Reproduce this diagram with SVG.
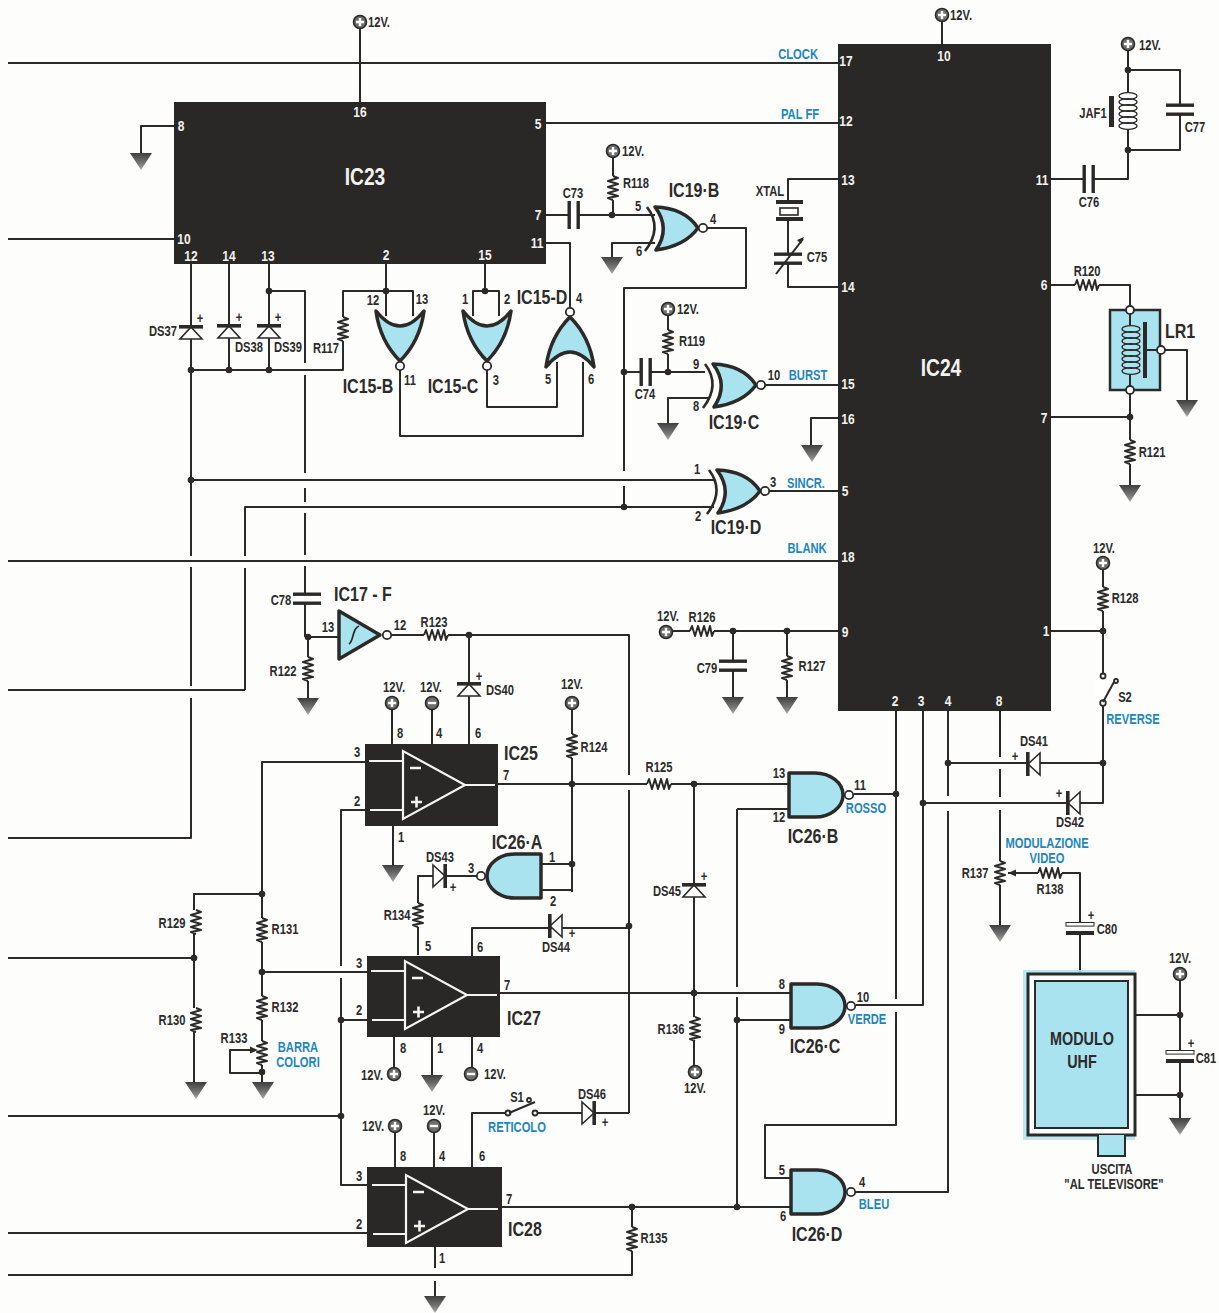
<svg xmlns="http://www.w3.org/2000/svg" width="1219" height="1313" viewBox="0 0 1219 1313">
<style>
text{font-family:"Liberation Sans",Arial,sans-serif;font-weight:700;text-anchor:middle;fill:#2c2b2a;font-size:14px;transform-box:fill-box;transform-origin:center;transform:scaleX(.8)}
.p{fill:#f2f2ee;font-size:15px}
.n{font-size:14px}
.b{fill:#1f86bd;font-size:14px}
.g{font-size:20px}
.m{font-size:18px}
.h{fill:#f2f2ee;font-size:24px}
.w{fill:none;stroke:#2b2a29;stroke-width:2;stroke-linejoin:round}
.ic{fill:#2a2826}
.gate{fill:#a9e3ef;stroke:#2b2a29;stroke-width:3.5;stroke-linejoin:round}
.bub{fill:#fff;stroke:#2b2a29;stroke-width:1.8}
.arc{fill:none;stroke:#2b2a29;stroke-width:2.6}
.opa{fill:none;stroke:#f4f4f0;stroke-width:2.2;stroke-linejoin:miter}
.z{fill:none;stroke:#2b2a29;stroke-width:2;stroke-linejoin:round}
.c{fill:none;stroke:#2b2a29;stroke-width:1.4}
.plate{fill:#2b2a29}
.dot{fill:#2b2a29}
</style>
<defs>
<linearGradient id="gg" x1="0" y1="0" x2="0" y2="1"><stop offset="0" stop-color="#3f3f3f"/><stop offset=".6" stop-color="#777"/><stop offset="1" stop-color="#a8a8a4"/></linearGradient>
<g id="rv"><rect x="-6" y="-12" width="12" height="24" fill="#fff"/><path class="z" d="M0-12l5 2-10 3 10 3-10 3 10 3-10 3 10 3-10 2 5 2"/></g>
<g id="rh"><rect x="-12" y="-6" width="24" height="12" fill="#fff"/><path class="z" d="M-12 0l2-5 3 10 3-10 3 10 3-10 3 10 3-10 2 10 2-5"/></g>
<path id="gnd" d="M-11 0H11L0 17Z" fill="url(#gg)"/>
<g id="vp"><circle r="6.5" fill="#6e6e6c" stroke="#2b2a29" stroke-width="1.6"/><path d="M-4 0H4M0-4V4" stroke="#fff" stroke-width="2.4"/></g>
<g id="vm"><circle r="6.5" fill="#6e6e6c" stroke="#2b2a29" stroke-width="1.6"/><path d="M-4 0H4" stroke="#fff" stroke-width="2.4"/></g>
<circle id="d" class="dot" r="3.3"/>
<g id="dio"><path d="M0-4L11 8H-11Z" fill="#fff" stroke="#2b2a29" stroke-width="1.6"/><rect x="-12" y="-6" width="24" height="3.6" class="plate"/></g>
<g id="capv"><rect x="-14" y="0" width="28" height="9" fill="#fff"/><rect x="-14" y="-1.5" width="28" height="3.4" class="plate"/><rect x="-14" y="7.5" width="28" height="3.4" class="plate"/></g>
<g id="caph"><rect x="0" y="-14" width="9" height="28" fill="#fff"/><rect x="-1.5" y="-14" width="3.4" height="28" class="plate"/><rect x="7.5" y="-14" width="3.4" height="28" class="plate"/></g>
<g id="cape"><rect x="-14" y="-2" width="28" height="10" fill="#fff"/><rect x="-14" y="-2.5" width="28" height="3.6" fill="#fff" stroke="#2b2a29" stroke-width="1"/><rect x="-14" y="6" width="28" height="4" class="plate"/></g>
<g id="nand"><path class="gate" d="M0-22H26A28 22 0 0 1 26 22H0Z"/><circle class="bub" cx="60" cy="0" r="4.2"/></g>
<g id="nor"><path class="gate" d="M-24 0Q0 30 24 0Q20 30 0 50Q-20 30-24 0Z"/><circle class="bub" cx="0" cy="55" r="4.2"/></g>
<g id="xnor"><path class="arc" d="M2-21Q18 0 0 23"/><path class="gate" d="M10-21Q40-20 53 0Q40 18 11 22Q26 0 10-21Z"/><circle class="bub" cx="58" cy="0" r="4.2"/></g>
<g id="oa"><path class="opa" d="M0-34V34L62 0ZM62 0H92M-34-24H0M-33 25H0"/><path d="M7-17H18M8 17H19M13.500 11.500V22.500" stroke="#f4f4f0" stroke-width="2.6" fill="none"/></g>
<ellipse id="turn" class="c" rx="9" ry="3.400"/>
</defs>
<rect width="1219" height="1313" fill="#fdfdfb"/>
<g id="connectors">
<path class="w" d="M8 63H838M360 28V102M942 21V44M546 123H838M174 126H141V153M8 239H174"/>
<path class="w" d="M546 215H655M613 157V215M655 243H612V257M707 228H746V288H624V471M624 486V507"/>
<path class="w" d="M838 179H788V202M788 218V254M788 262V287H838"/>
<path class="w" d="M624 372H705M668 315V372M668 423V398H708M765 385H838M838 418H811V445"/>
<path class="w" d="M191 264V556M191 567V686M191 698V838H8M229 264V370M269 264V370M191 370H343V291H413V316M386 264V316"/>
<path class="w" d="M269 291H305V363M305 375V473M305 488V502M305 513V555M305 566V637M191 480H714M245 690V568M245 556V507H714M8 690H245M8 561H838M767 491H838"/>
<path class="w" d="M485 264V291M473 316V291H499V316M400 370V436H583V362M487 370V407H557V362M570 307V243H546"/>
<path class="w" d="M308 637H340M391 635H629V775M629 790V1113M469 635V745M392 709V745M432 709V745M572 709V892M572 864H541M572 890H541M477 876H418V955"/>
<path class="w" d="M365 762H262V972M365 810H341V966M341 978V1185H367M341 1020H367M8 1116H341M262 894H194V1082M194 958H8M262 972H367M262 972V1082M252 1050H230V1073H262"/>
<path class="w" d="M498 784H789M694 784V1072M737 809H789M737 809V987M737 997V1207M694 993H790M500 993H694M737 1020H790"/>
<path class="w" d="M472 956V928H629M394 1037V1068M432 1037V1075M472 1037V1068M395 1133V1167M434 1133V1167M472 1167V1113H629M367 1233H8M502 1207H790M632 1207V1275H8M435 1247V1268M435 1281V1296"/>
<path class="w" d="M672 631H838M733 631V697M787 631V697"/>
<path class="w" d="M854 794H896M896 711V999M896 1012V1125H765V1178H790M856 1005H923V711M856 1192H948V811M948 796V711"/>
<path class="w" d="M948 763H1103M1000 711V757M1000 769V797M1000 810V925M923 803H1103V631M1051 631H1103M1103 570V665M1103 706V763"/>
<path class="w" d="M1008 873H1080V972M1135 1015H1180M1135 1095H1180M1180 981V1118"/>
<path class="w" d="M1051 179H1128V150M1128 51V92M1128 130V150M1128 70H1180V150H1128"/>
<path class="w" d="M1051 285H1130V309M1130 394V485M1051 417H1130M1165 350H1187V400"/>
<path class="w" d="M393 826V865M308 640V698"/>
</g>
<g id="IC23"><rect class="ic" x="174" y="102" width="372" height="162"/>
<text class="h" x="365" y="185">IC23</text>
<text class="p" x="360" y="117">16</text><text class="p" x="181" y="131">8</text><text class="p" x="538" y="129">5</text><text class="p" x="538" y="220">7</text><text class="p" x="537" y="248">11</text><text class="p" x="184" y="244">10</text><text class="p" x="191" y="261">12</text><text class="p" x="229" y="261">14</text><text class="p" x="268" y="261">13</text><text class="p" x="386" y="260">2</text><text class="p" x="485" y="260">15</text></g>
<g id="IC24"><rect class="ic" x="838" y="44" width="213" height="667"/>
<text class="h" x="941" y="376">IC24</text>
<text class="p" x="846" y="66">17</text><text class="p" x="846" y="126">12</text><text class="p" x="848" y="185">13</text><text class="p" x="848" y="292">14</text><text class="p" x="848" y="389">15</text><text class="p" x="848" y="424">16</text><text class="p" x="845" y="496">5</text><text class="p" x="848" y="562">18</text><text class="p" x="845" y="637">9</text><text class="p" x="944" y="61">10</text><text class="p" x="1042" y="185">11</text><text class="p" x="1044" y="290">6</text><text class="p" x="1044" y="423">7</text><text class="p" x="1046" y="636">1</text><text class="p" x="895" y="706">2</text><text class="p" x="921" y="706">3</text><text class="p" x="948" y="706">4</text><text class="p" x="999" y="706">8</text></g>
<g id="signal-labels"><text class="b" x="798" y="59">CLOCK</text><text class="b" x="800" y="119">PAL FF</text><text class="b" x="808" y="380">BURST</text><text class="b" x="806" y="488">SINCR.</text><text class="b" x="807" y="553">BLANK</text><text class="b" x="866" y="813">ROSSO</text><text class="b" x="867" y="1024">VERDE</text><text class="b" x="874" y="1209">BLEU</text><text class="b" x="1133" y="724">REVERSE</text><text class="b" x="298" y="1052">BARRA</text><text class="b" x="298" y="1067">COLORI</text><text class="b" x="517" y="1132">RETICOLO</text><text class="b" x="1047" y="848">MODULAZIONE</text><text class="b" x="1047" y="863">VIDEO</text></g>
<g id="supply-top"><use href="#vp" x="360" y="22"/><text x="379" y="27">12V.</text><use href="#vp" x="942" y="15"/><text x="961" y="20">12V.</text></g>
<g id="G8"><use href="#gnd" x="141" y="153"/></g>
<g id="C73"><use href="#caph" x="569" y="215"/><text x="573" y="198">C73</text></g>
<g id="R118"><use href="#vp" x="613" y="151"/><text x="633" y="156">12V.</text><use href="#rv" x="613" y="188"/><text x="636" y="188">R118</text><use href="#d" x="612" y="215"/><use href="#gnd" x="612" y="257"/></g>
<g id="IC19-B"><use href="#xnor" x="645" y="228"/><text class="g" x="694" y="197">IC19·B</text><text class="n" x="638" y="211">5</text><text class="n" x="639" y="256">6</text><text class="n" x="713" y="224">4</text></g>
<g id="XTAL"><rect x="776" y="200" width="27" height="4" class="plate"/><rect x="780" y="208" width="18" height="7" fill="#fff" stroke="#2b2a29" stroke-width="1.6"/><rect x="776" y="217" width="27" height="4" class="plate"/><text x="770" y="196">XTAL</text></g>
<g id="C75"><use href="#capv" x="788" y="254"/><path class="w" d="M776 274L803 239" stroke-width="1.5"/><path d="M804 237l-7 3 4 4Z" class="plate"/><text x="817" y="262">C75</text></g>
<g id="C74"><use href="#caph" x="641" y="372"/><use href="#d" x="624" y="372"/><use href="#d" x="668" y="372"/><text x="645" y="399">C74</text></g>
<g id="R119"><use href="#vp" x="668" y="309"/><text x="688" y="314">12V.</text><use href="#rv" x="668" y="342"/><text x="692" y="346">R119</text><use href="#gnd" x="668" y="423"/></g>
<g id="IC19-C"><use href="#xnor" x="703" y="385"/><text class="g" x="734" y="429">IC19·C</text><text class="n" x="696" y="369">9</text><text class="n" x="696" y="411">8</text><text class="n" x="774" y="380">10</text></g>
<g id="G16"><use href="#gnd" x="812" y="445"/></g>
<g id="IC19-D"><use href="#xnor" x="707" y="491"/><text class="g" x="736" y="534">IC19·D</text><text class="n" x="697" y="474">1</text><text class="n" x="698" y="521">2</text><text class="n" x="773" y="487">3</text></g>
<g id="dots-left"><use href="#d" x="191" y="370"/><use href="#d" x="229" y="370"/><use href="#d" x="269" y="370"/><use href="#d" x="269" y="291"/><use href="#d" x="386" y="291"/><use href="#d" x="485" y="291"/><use href="#d" x="191" y="480"/><use href="#d" x="624" y="507"/></g>
<g id="DS37"><use href="#dio" x="191" y="331"/><text x="163" y="336">DS37</text><text class="n" x="200" y="323">+</text></g>
<g id="DS38"><use href="#dio" x="229" y="330"/><text x="249" y="352">DS38</text><text class="n" x="239" y="322">+</text></g>
<g id="DS39"><use href="#dio" x="269" y="330"/><text x="288" y="352">DS39</text><text class="n" x="278" y="322">+</text></g>
<g id="R117"><use href="#rv" x="343" y="329"/><text x="326" y="353">R117</text></g>
<g id="IC15-B"><use href="#nor" x="400" y="311"/><text class="g" x="368" y="393">IC15-B</text><text class="n" x="373" y="305">12</text><text class="n" x="422" y="304">13</text><text class="n" x="410" y="385">11</text></g>
<g id="IC15-C"><use href="#nor" x="487" y="311"/><text class="g" x="453" y="393">IC15-C</text><text class="n" x="465" y="304">1</text><text class="n" x="507" y="304">2</text><text class="n" x="496" y="385">3</text></g>
<g id="IC15-D"><use href="#nor" transform="translate(570 367) rotate(180)"/><text class="g" x="542" y="304">IC15-D</text><text class="n" x="579" y="303">4</text><text class="n" x="548" y="384">5</text><text class="n" x="591" y="384">6</text></g>
<g id="C78"><use href="#capv" x="307" y="594"/><text x="281" y="605">C78</text><use href="#d" x="308" y="637"/></g>
<g id="R122"><use href="#rv" x="308" y="669"/><text x="283" y="676">R122</text><use href="#gnd" x="308" y="698"/></g>
<g id="IC17-F"><path class="gate" stroke-width="5" d="M339 611V659L380 635Z"/><path d="M349 644c5-3 3-16 10-18" fill="none" stroke="#2b2a29" stroke-width="1.8"/><circle class="bub" cx="387" cy="635" r="4.2"/><text class="g" x="363" y="601">IC17 - F</text><text class="n" x="328" y="632">13</text><text class="n" x="400" y="630">12</text></g>
<g id="R123"><use href="#rh" x="436" y="635"/><text x="434" y="627">R123</text><use href="#d" x="469" y="635"/></g>
<g id="DS40"><use href="#dio" x="469" y="688"/><text class="n" x="479" y="681">+</text><text x="500" y="695">DS40</text></g>
<g id="IC25"><rect class="ic" x="365" y="744" width="133" height="82"/><use href="#oa" x="403" y="785"/><text class="g" x="521" y="760">IC25</text><text x="357" y="757">3</text><text x="357" y="806">2</text><text x="400" y="738">8</text><text x="439" y="738">4</text><text x="478" y="738">6</text><text x="506" y="780">7</text><text x="401" y="842">1</text></g>
<g id="IC25-supply"><use href="#vp" x="392" y="703"/><text x="394" y="692">12V.</text><use href="#vm" x="432" y="703"/><text x="431" y="692">12V.</text><use href="#gnd" x="393" y="865"/></g>
<g id="R124"><use href="#vp" x="572" y="703"/><text x="572" y="689">12V.</text><use href="#rv" x="572" y="746"/><text x="594" y="752">R124</text><use href="#d" x="572" y="784"/><use href="#d" x="572" y="864"/></g>
<g id="IC26-A"><use href="#nand" transform="translate(541 876) scale(-1 1)"/><text class="g" x="517" y="849">IC26·A</text><text class="n" x="471" y="873">3</text><text class="n" x="552" y="862">1</text><text class="n" x="553" y="906">2</text></g>
<g id="DS43"><use href="#dio" transform="translate(441 876) rotate(90)"/><text x="440" y="862">DS43</text><text class="n" x="453" y="892">+</text></g>
<g id="R134"><use href="#rv" x="418" y="915"/><text x="397" y="920">R134</text></g>
<g id="DS44"><use href="#dio" transform="translate(554 926) rotate(-90)"/><text x="556" y="952">DS44</text><text class="n" x="572" y="938">+</text><use href="#d" x="629" y="926"/></g>
<g id="R125"><use href="#rh" x="659" y="784"/><text x="659" y="772">R125</text><use href="#d" x="694" y="784"/></g>
<g id="DS45"><use href="#dio" x="694" y="889"/><text x="667" y="896">DS45</text><text class="n" x="704" y="881">+</text><use href="#d" x="694" y="993"/></g>
<g id="R136"><use href="#rv" x="695" y="1029"/><text x="671" y="1034">R136</text><use href="#vp" x="695" y="1072"/><text x="695" y="1093">12V.</text></g>
<g id="IC26-B"><use href="#nand" x="789" y="795"/><text class="g" x="813" y="843">IC26·B</text><text class="n" x="779" y="778">13</text><text class="n" x="779" y="822">12</text><text class="n" x="860" y="790">11</text><use href="#d" x="896" y="794"/></g>
<g id="IC26-C"><use href="#nand" x="791" y="1006"/><text class="g" x="815" y="1053">IC26·C</text><text class="n" x="782" y="989">8</text><text class="n" x="782" y="1034">9</text><text class="n" x="863" y="1002">10</text><use href="#d" x="737" y="1020"/></g>
<g id="IC26-D"><use href="#nand" x="791" y="1192"/><text class="g" x="817" y="1241">IC26·D</text><text class="n" x="782" y="1175">5</text><text class="n" x="783" y="1221">6</text><text class="n" x="862" y="1187">4</text><use href="#d" x="737" y="1207"/></g>
<g id="divider"><use href="#rv" x="196" y="922"/><text x="172" y="928">R129</text><use href="#rv" x="196" y="1020"/><text x="172" y="1025">R130</text><use href="#d" x="194" y="958"/><use href="#gnd" x="196" y="1082"/><use href="#d" x="262" y="894"/><use href="#rv" x="262" y="930"/><text x="285" y="934">R131</text><use href="#d" x="262" y="972"/><use href="#rv" x="262" y="1008"/><text x="285" y="1012">R132</text></g>
<g id="R133"><use href="#rv" x="262" y="1053"/><path d="M258 1050l-8-3.500v7Z" class="plate"/><text x="234" y="1043">R133</text><use href="#d" x="262" y="1072"/><use href="#gnd" x="263" y="1082"/></g>
<g id="junctions"><use href="#d" x="341" y="1020"/><use href="#d" x="341" y="1116"/><use href="#d" x="923" y="803"/><use href="#d" x="948" y="763"/><use href="#d" x="1103" y="763"/><use href="#d" x="1103" y="631"/></g>
<g id="IC27"><rect class="ic" x="367" y="956" width="133" height="81"/><use href="#oa" x="405" y="995"/><text class="g" x="524" y="1025">IC27</text><text x="359" y="968">3</text><text x="359" y="1015">2</text><text x="428" y="951">5</text><text x="480" y="952">6</text><text x="507" y="990">7</text><text x="403" y="1053">8</text><text x="440" y="1053">1</text><text x="480" y="1053">4</text></g>
<g id="IC27-supply"><use href="#vp" x="394" y="1074"/><text x="372" y="1080">12V.</text><use href="#gnd" x="432" y="1075"/><use href="#vm" x="471" y="1074"/><text x="495" y="1079">12V.</text></g>
<g id="IC28"><rect class="ic" x="367" y="1167" width="135" height="80"/><use href="#oa" x="406" y="1209"/><text class="g" x="525" y="1236">IC28</text><text x="359" y="1181">3</text><text x="359" y="1229">2</text><text x="403" y="1161">8</text><text x="442" y="1161">4</text><text x="482" y="1161">6</text><text x="509" y="1204">7</text><text x="442" y="1263">1</text></g>
<g id="IC28-supply"><use href="#vp" x="395" y="1126"/><text x="373" y="1131">12V.</text><use href="#vm" x="434" y="1126"/><text x="434" y="1115">12V.</text><use href="#gnd" x="435" y="1296"/></g>
<g id="S1"><rect x="510" y="1108" width="24" height="10" fill="#fff"/><circle class="bub" cx="508" cy="1113" r="2.500"/><circle class="bub" cx="535" cy="1113" r="2.500"/><path class="w" d="M509 1113L535 1102"/><circle class="bub" cx="529" cy="1100" r="2"/><text class="n" x="517" y="1102">S1</text></g>
<g id="DS46"><use href="#dio" transform="translate(590 1113) rotate(90)"/><text x="592" y="1099">DS46</text><text class="n" x="605" y="1127">+</text></g>
<g id="R135"><use href="#rv" x="632" y="1239"/><text x="654" y="1243">R135</text><use href="#d" x="632" y="1207"/></g>
<g id="R126"><use href="#vp" x="666" y="632"/><text x="668" y="621">12V.</text><use href="#rh" x="702" y="631"/><text x="702" y="622">R126</text><use href="#d" x="733" y="631"/><use href="#d" x="787" y="631"/></g>
<g id="C79"><use href="#capv" x="733" y="661"/><text x="707" y="673">C79</text><use href="#gnd" x="733" y="697"/></g>
<g id="R127"><use href="#rv" x="787" y="668"/><text x="812" y="671">R127</text><use href="#gnd" x="787" y="697"/></g>
<g id="JAF1"><use href="#vp" x="1128" y="44"/><text x="1150" y="50">12V.</text><use href="#d" x="1128" y="70"/><use href="#d" x="1128" y="150"/><rect x="1118" y="92" width="20" height="38" fill="#fff"/><use href="#turn" x="1128" y="96"/><use href="#turn" x="1128" y="102"/><use href="#turn" x="1128" y="108"/><use href="#turn" x="1128" y="114"/><use href="#turn" x="1128" y="120"/><use href="#turn" x="1128" y="126"/><rect x="1109" y="96" width="5" height="31" class="plate"/><text x="1093" y="118">JAF1</text></g>
<g id="C77"><use href="#capv" x="1180" y="105"/><text x="1195" y="132">C77</text></g>
<g id="C76"><use href="#caph" x="1084" y="179"/><text x="1089" y="207">C76</text></g>
<g id="R120"><use href="#rh" x="1087" y="285"/><text x="1087" y="276">R120</text></g>
<g id="LR1"><rect x="1110" y="310" width="50" height="80" fill="#a9e3ef" stroke="#2b2a29" stroke-width="2.500"/><path class="z" d="M1130 314V326M1130 374V386"/><use href="#turn" x="1131" y="329"/><use href="#turn" x="1131" y="335"/><use href="#turn" x="1131" y="341"/><use href="#turn" x="1131" y="347"/><use href="#turn" x="1131" y="353"/><use href="#turn" x="1131" y="359"/><use href="#turn" x="1131" y="365"/><use href="#turn" x="1131" y="371"/><rect x="1143" y="322" width="4" height="56" class="plate"/><path class="z" d="M1145 350H1158"/><circle class="bub" cx="1130" cy="310" r="4"/><circle class="bub" cx="1130" cy="390" r="4"/><circle class="bub" cx="1161" cy="350" r="4"/><text class="g" x="1180" y="338">LR1</text><use href="#gnd" x="1187" y="400"/></g>
<g id="R121"><use href="#d" x="1130" y="417"/><use href="#rv" x="1130" y="452"/><text x="1152" y="457">R121</text><use href="#gnd" x="1130" y="485"/></g>
<g id="R128"><use href="#vp" x="1103" y="563"/><text x="1104" y="553">12V.</text><use href="#rv" x="1103" y="599"/><text x="1125" y="603">R128</text></g>
<g id="S2"><rect x="1095" y="676" width="16" height="24" fill="#fff"/><circle class="bub" cx="1103" cy="676" r="2.500"/><circle class="bub" cx="1103" cy="703" r="2.800"/><path class="w" d="M1103 702L1114 682"/><circle class="bub" cx="1116" cy="681" r="2"/><text class="n" x="1125" y="702">S2</text></g>
<g id="DS41"><use href="#dio" transform="translate(1032 764) rotate(-90)"/><text x="1034" y="746">DS41</text><text class="n" x="1015" y="761">+</text></g>
<g id="DS42"><use href="#dio" transform="translate(1072 803) rotate(-90)"/><text x="1070" y="827">DS42</text><text class="n" x="1059" y="798">+</text></g>
<g id="R137"><use href="#rv" x="1000" y="873"/><text x="975" y="878">R137</text><path d="M1008 873l8-3.500v7Z" class="plate"/><use href="#gnd" x="1000" y="925"/></g>
<g id="R138"><use href="#rh" x="1050" y="873"/><text x="1050" y="894">R138</text></g>
<g id="C80"><use href="#cape" x="1080" y="925"/><text class="n" x="1091" y="920">+</text><text x="1107" y="934">C80</text></g>
<g id="MODULO-UHF"><rect x="1023" y="970" width="112" height="170" fill="#a9e3ef" opacity=".8"/><rect x="1028" y="974" width="107" height="161" fill="#fff" stroke="#2b2a29" stroke-width="3"/><rect x="1035" y="981" width="93" height="147" fill="#a9e3ef" stroke="#2b2a29" stroke-width="2"/><path d="M1098 1135V1156H1125V1135" fill="#a9e3ef" stroke="#2b2a29" stroke-width="2"/><text class="m" x="1082" y="1045">MODULO</text><text class="m" x="1082" y="1068">UHF</text><text class="n" x="1112" y="1174">USCITA</text><text class="n" x="1114" y="1189">"AL TELEVISORE"</text></g>
<g id="C81"><use href="#vp" x="1180" y="974"/><text x="1180" y="963">12V.</text><use href="#d" x="1180" y="1015"/><use href="#d" x="1180" y="1095"/><use href="#cape" x="1180" y="1053"/><text class="n" x="1191" y="1048">+</text><text x="1206" y="1063">C81</text><use href="#gnd" x="1180" y="1118"/></g>
</svg>
